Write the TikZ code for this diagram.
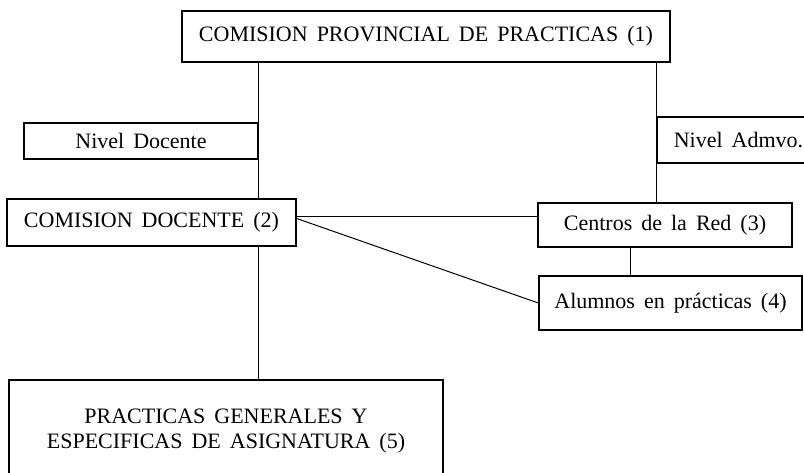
\documentclass[tikz,border=0pt]{standalone}
\usepackage{fontspec}
\setmainfont{Liberation Serif}
\usepackage{tikz}

\newcommand{\fuentecaja}{\fontsize{22}{25}\selectfont\spaceskip=9pt plus 2pt\relax}
\tikzset{
    caja/.style={draw, line width=1.3pt, fill=white, inner sep=0pt, align=center, font=\fuentecaja},
    linea/.style={line width=1pt}
}

\begin{document}
\begin{tikzpicture}[x=1pt, y=-1pt]
        \useasboundingbox (0,0) rectangle (804,473);
        % cajas
        \node[caja, minimum width=488pt, minimum height=51pt] (provincial) at (426,36.5) {COMISION PROVINCIAL DE PRACTICAS (1)};
        \node[caja, minimum width=234pt, minimum height=36pt] (nivdocente) at (141,141) {Nivel Docente};
        \node[caja, minimum width=289pt, minimum height=47pt] (docente) at (151.5,222.5) {COMISION DOCENTE (2)};
        \node[caja, minimum width=163pt, minimum height=46pt] (nivadmvo) at (738.5,140) {Nivel Admvo.};
        \node[caja, minimum width=254pt, minimum height=44pt] (centros) at (665,225) {Centros de la Red (3)};
        \node[caja, minimum width=263pt, minimum height=54pt] (alumnos) at (670.5,303) {Alumnos en pr\'acticas (4)};
        \node[caja, minimum width=434pt, minimum height=102pt] (practicas) at (226,431) {PRACTICAS GENERALES Y\\ ESPECIFICAS DE ASIGNATURA (5)};
        % lineas
        \draw[linea] (provincial.south -| nivdocente.east) -- (docente.north -| nivdocente.east);
        \draw[linea] (docente.south -| nivdocente.east) -- (practicas.north -| nivdocente.east);
        \draw[linea] (provincial.south -| nivadmvo.west) -- (centros.north -| nivadmvo.west);
        \draw[linea] ([yshift=5.5pt]docente.east) -- ([yshift=5.5pt]docente.east -| centros.west);
        \draw[linea] ([yshift=4pt]docente.east) -- (alumnos.west);
        \coordinate (bajada) at ([xshift=-35pt]centros.south);
        \draw[linea] (bajada) -- (bajada |- alumnos.north);
\end{tikzpicture}
\end{document}
